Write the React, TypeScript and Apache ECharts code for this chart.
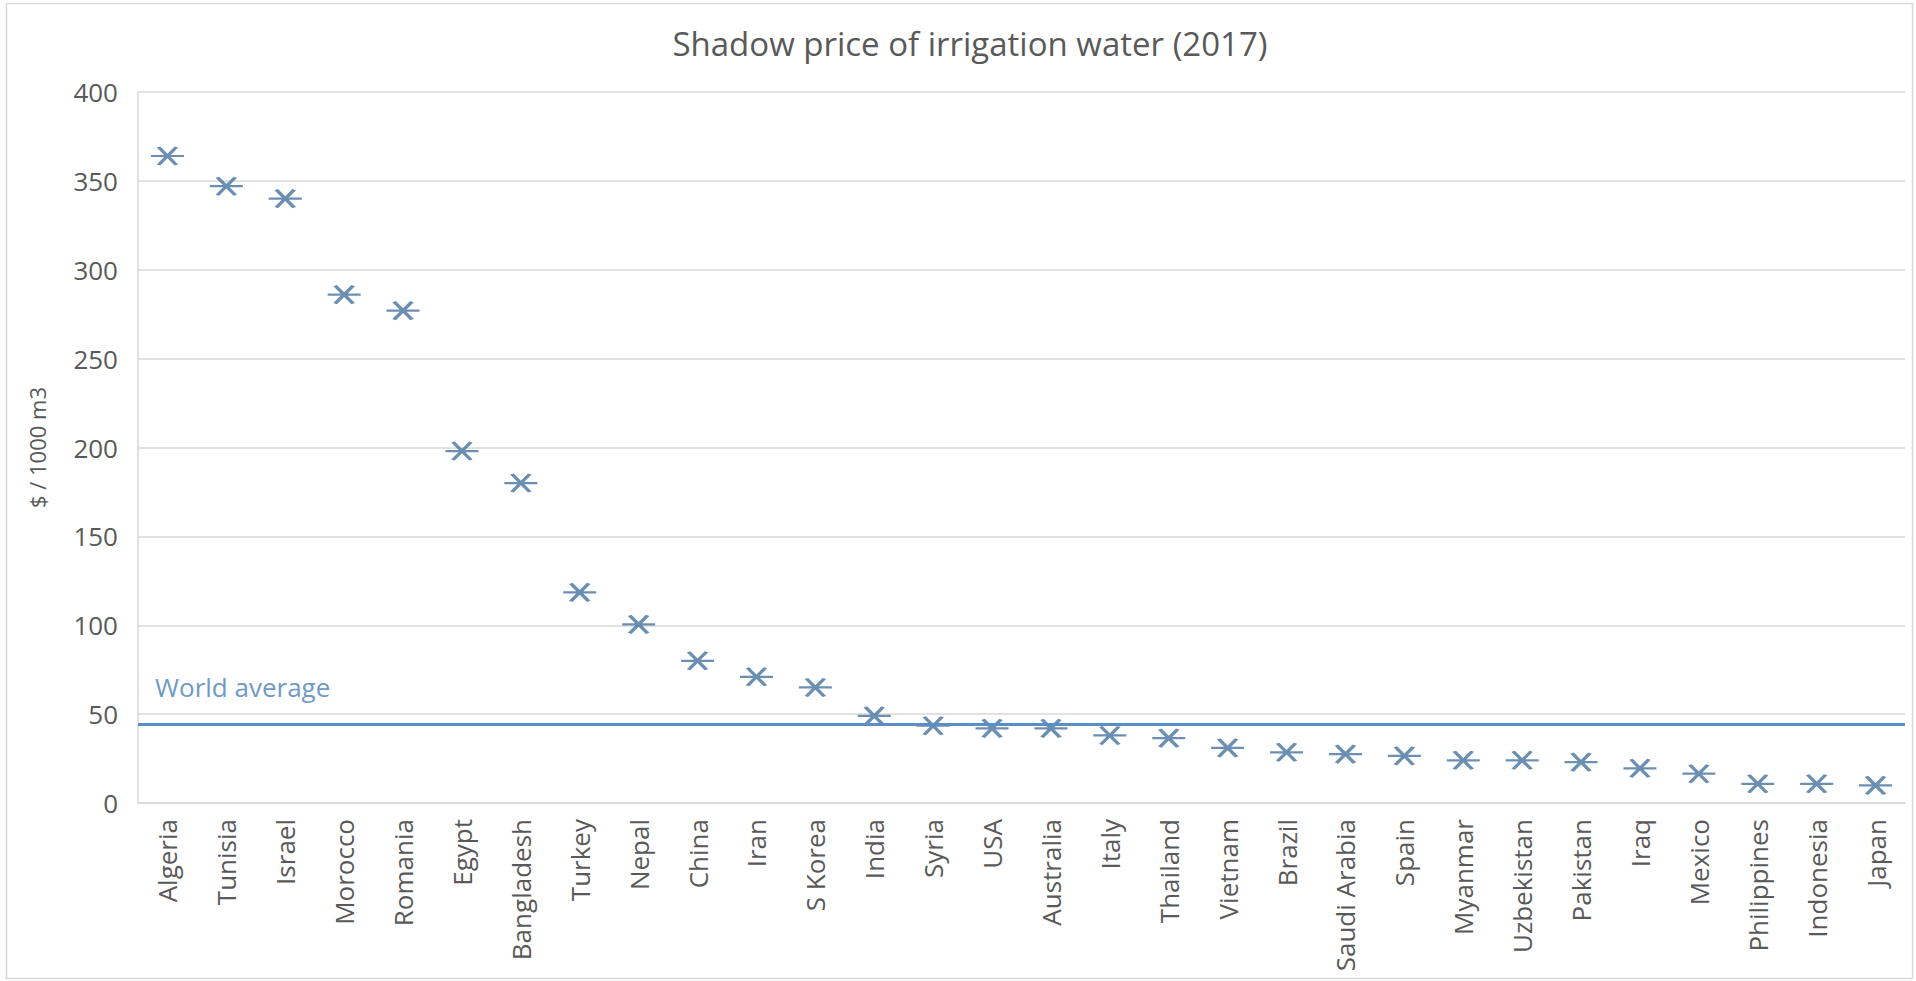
import React, { useEffect, useRef } from "react";
import * as echarts from "echarts";

const chartTitle = "Shadow price of irrigation water (2017)";
const yAxisTitle = "$ / 1000 m3";
const averageLabel = "World average";

const countries = [
  "Algeria", "Tunisia", "Israel", "Morocco", "Romania", "Egypt", "Bangladesh",
  "Turkey", "Nepal", "China", "Iran", "S Korea", "India", "Syria", "USA",
  "Australia", "Italy", "Thailand", "Vietnam", "Brazil", "Saudi Arabia", "Spain",
  "Myanmar", "Uzbekistan", "Pakistan", "Iraq", "Mexico", "Philippines",
  "Indonesia", "Japan",
];

const shadowPrices = [
  364, 347, 340, 286, 277, 198, 180,
  118.5, 100.5, 80, 71, 65, 49, 43.5, 42,
  42, 38, 36.5, 31, 28.5, 27.5, 26.5,
  24, 24, 23, 19.5, 16.5, 10.8,
  10.8, 9.9,
];

const worldAverage = 44.3;

const yMin = 0;
const yMax = 400;
const yStep = 50;

const FONT = "'Open Sans', 'Noto Sans', sans-serif";
const TEXT = "#595959";
const GRID = "#d9d9d9";
const MARK = "#46739f";

export default function App() {
  const ref = useRef<HTMLDivElement>(null);

  useEffect(() => {
    if (!ref.current) return;
    const chart = echarts.init(ref.current, undefined, { renderer: "svg" });
    chart.setOption({
      animation: false,
      backgroundColor: "#ffffff",
      textStyle: { fontFamily: FONT },
      title: {
        text: chartTitle,
        left: 965,
        textAlign: "center",
        top: 22,
        textStyle: { fontFamily: FONT, fontSize: 33, fontWeight: "normal", color: TEXT },
      },
      graphic: [
        {
          type: "rect",
          shape: { x: 6.5, y: 3.5, width: 1906, height: 975 },
          style: { fill: "none", stroke: GRID, lineWidth: 1.5 },
          silent: true,
        },
      ],
      grid: { left: 138, right: 11, top: 92, bottom: 178, containLabel: false },
      xAxis: {
        type: "category",
        data: countries,
        boundaryGap: true,
        axisLine: { show: true, lineStyle: { color: GRID, width: 1.5 } },
        axisTick: { show: false },
        axisLabel: {
          rotate: 90,
          interval: 0,
          margin: 16,
          color: TEXT,
          fontSize: 26,
          fontFamily: FONT,
        },
        splitLine: { show: false },
      },
      yAxis: {
        type: "value",
        min: yMin,
        max: yMax,
        interval: yStep,
        name: yAxisTitle,
        nameLocation: "middle",
        nameGap: 90,
        nameTextStyle: { color: TEXT, fontSize: 22, fontFamily: FONT },
        axisLine: { show: true, lineStyle: { color: GRID, width: 1.5 } },
        axisTick: { show: false },
        axisLabel: { color: TEXT, fontSize: 26, fontFamily: FONT, margin: 20 },
        splitLine: { show: true, lineStyle: { color: GRID, width: 1.5 } },
      },
      series: [
        {
          type: "scatter",
          name: "Shadow price",
          data: shadowPrices,
          symbol: "path://M0 9 L33 9 M7.5 0 L25.5 18 M7.5 18 L25.5 0",
          symbolSize: [33, 18],
          itemStyle: { color: MARK, borderColor: MARK, borderWidth: 3 },
          markLine: {
            silent: true,
            symbol: "none",
            lineStyle: { color: "#5b8ec6", width: 3, type: "solid" },
            label: {
              show: true,
              position: "insideStartTop",
              formatter: averageLabel,
              color: "#6f9ac4",
              fontSize: 26,
              fontFamily: FONT,
              distance: [17, 24],
            },
            data: [{ yAxis: worldAverage, name: averageLabel }],
          },
        },
      ],
    });
    return () => chart.dispose();
  }, []);

  return (
    <div
      ref={ref}
      style={{ position: "fixed", left: 0, top: 0, width: 1916, height: 981, background: "#fff" }}
    />
  );
}
